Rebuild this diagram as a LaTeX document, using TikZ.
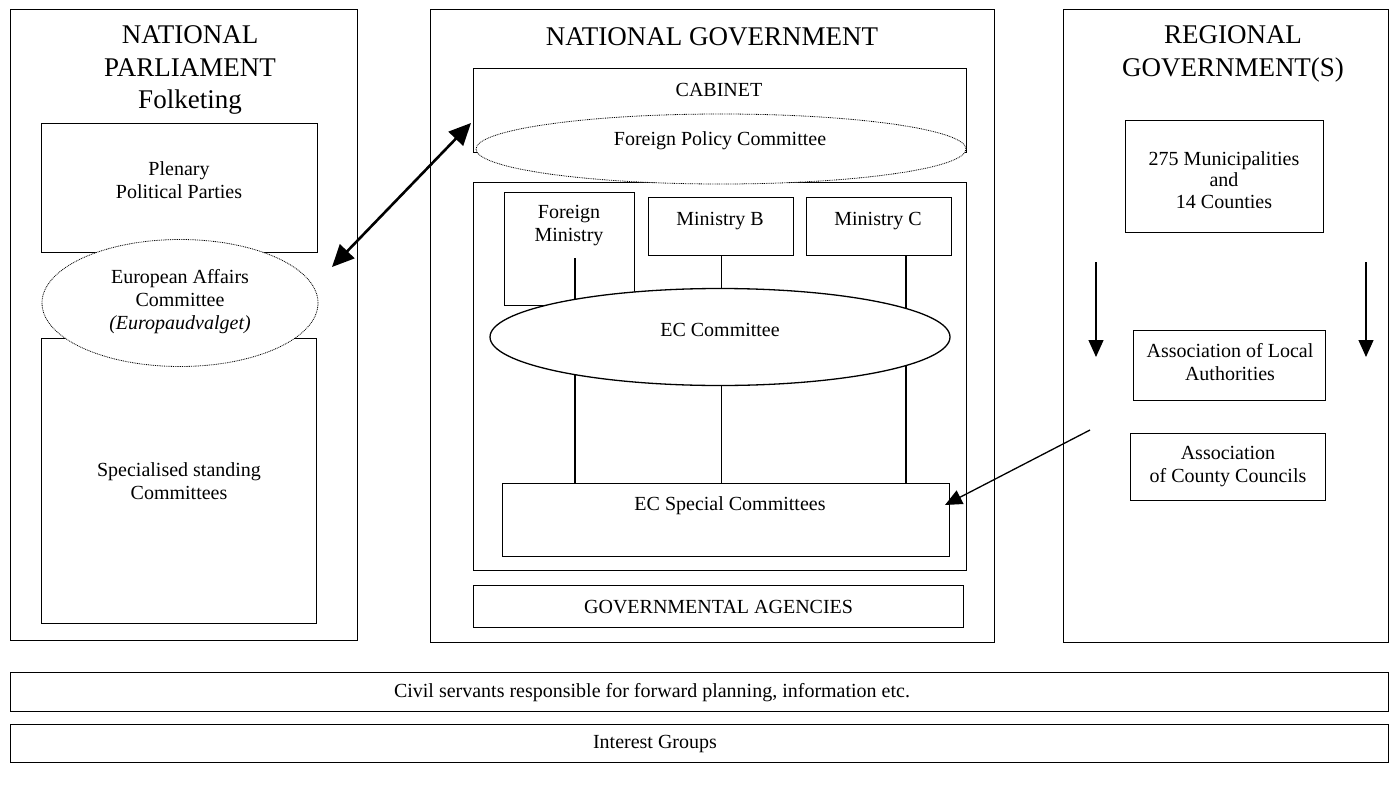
\documentclass[tikz,border=0pt]{standalone}
\usepackage{fontspec}
\setmainfont{Liberation Serif}
\usetikzlibrary{shapes.geometric,arrows.meta}
\tikzset{
  box/.style={draw, line width=1.2pt, inner sep=0pt, fill=white, anchor=north west, align=center},
  small/.style={font=\fontsize{20}{23}\selectfont, align=center, inner sep=0pt},
  title/.style={font=\fontsize{27}{32.5}\selectfont, align=center, inner sep=0pt},
  dotell/.style={ellipse, draw, fill=white, line width=0.8pt, dash pattern=on 0.9pt off 0.9pt, inner sep=0pt, align=center},
  solidell/.style={ellipse, draw, fill=white, line width=1.3pt, inner sep=0pt, align=center},
  conn/.style={line width=1.2pt},
  tri/.style={line width=1.3pt, -{Triangle[width=15pt,length=17pt]}},
}
\begin{document}
\begin{tikzpicture}[x=1pt,y=-1pt]
\useasboundingbox (0,0) rectangle (1397,787);
% ---------- left panel ----------
\node[box, minimum width=347pt, minimum height=631pt] (lp) at (10,9) {};
\node[title] (lpt) at (190,70) {NATIONAL\\PARLIAMENT\\Folketing};
\node[box, minimum width=276pt, minimum height=129pt] (plen) at (41,123) {};
\node[small] (plent) at (179,180) {Plenary\\Political Parties};
\node[box, minimum width=275pt, minimum height=285pt] (spec) at (41,338) {};
\node[small] (spect) at (179,481) {Specialised standing\\Committees};
\node[dotell, minimum width=276pt, minimum height=127pt] (eac) at (180,303) {};
\node[small] (eact) at (180,302) {European Affairs\\Committee\\\textit{(Europaudvalget)}};
% ---------- centre panel ----------
\node[box, minimum width=564pt, minimum height=633pt] (cp) at (430,9) {};
\node[title] (cpt) at (712,37) {NATIONAL GOVERNMENT};
\node[box, minimum width=493pt, minimum height=84pt] (cab) at (473,68) {};
\node[small] (cabt) at (719,90) {CABINET};
\node[box, minimum width=493pt, minimum height=388pt] (inner) at (473,182) {};
\node[dotell, minimum width=490pt, minimum height=70pt] (fpc) at (721,149) {};
\node[small] (fpct) at (720,141) {Foreign Policy Committee};
\node[box, minimum width=130pt, minimum height=113pt] (fm) at (504,192) {};
\node[small] (fmt) at (569,226) {Foreign\\Ministry};
\node[box, minimum width=145pt, minimum height=58pt] (mb) at (648,197) {};
\node[small] (mbt) at (720,221) {Ministry B};
\node[box, minimum width=145pt, minimum height=58pt] (mc) at (806,197) {};
\node[small] (mct) at (878,221) {Ministry C};
\node[box, minimum width=447pt, minimum height=73pt] (ecs) at (502,483) {};
\node[small] (ecst) at (730,506) {EC Special Committees};
\coordinate (fmline) at (575,258);
\coordinate (mcline) at (906,255);
\draw[conn] (fmline) -- (fmline |- ecs.north);
\draw[conn] (mb.south) -- (mb.south |- ecs.north);
\draw[conn] (mcline) -- (mcline |- ecs.north);
\node[solidell, minimum width=460pt, minimum height=97pt] (ec) at (720,337) {};
\node[small] (ect) at (720,330) {EC Committee};
\node[box, minimum width=490pt, minimum height=42pt, font=\fontsize{20}{23}\selectfont] (ga) at (473,585) {GOVERNMENTAL AGENCIES};
% ---------- right panel ----------
\node[box, minimum width=325pt, minimum height=633pt] (rp) at (1063,9) {};
\node[title] (rpt) at (1233,54) {REGIONAL\\GOVERNMENT(S)};
\node[box, minimum width=198pt, minimum height=112pt] (mun) at (1125,120) {};
\node[small, font=\fontsize{20}{21.5}\selectfont] (munt) at (1224,180) {275 Municipalities\\and\\14 Counties};
\node[box, minimum width=192pt, minimum height=70pt] (assl) at (1133,330) {};
\node[small] (asslt) at (1230,362) {Association of Local\\Authorities};
\node[box, minimum width=195pt, minimum height=67pt] (assc) at (1130,433) {};
\node[small] (assct) at (1228,467) {Association\\of County Councils};
\coordinate (da1s) at (1096,262);
\coordinate (da1e) at (1096,357);
\coordinate (da2s) at (1366,262);
\coordinate (da2e) at (1366,357);
\draw[tri] (da1s) -- (da1e);
\draw[tri] (da2s) -- (da2e);
\coordinate (ra) at (1090,430);
\coordinate (rb) at (945,505);
\draw[tri] (ra) -- (rb);
% ---------- double arrow ----------
\coordinate (dl) at (332,267);
\coordinate (dr) at (471,123);
\draw[line width=2.6pt, {Triangle[width=20pt,length=22pt]}-{Triangle[width=20pt,length=22pt]}] (dl) -- (dr);
% ---------- bottom bars ----------
\node[box, minimum width=1378pt, minimum height=39pt] (civ) at (10,672) {};
\node[small] (civt) at (652,693) {Civil servants responsible for forward planning, information etc.};
\node[box, minimum width=1378pt, minimum height=38pt] (ig) at (10,724) {};
\node[small] (igt) at (655,744) {Interest Groups};
\end{tikzpicture}
\end{document}
